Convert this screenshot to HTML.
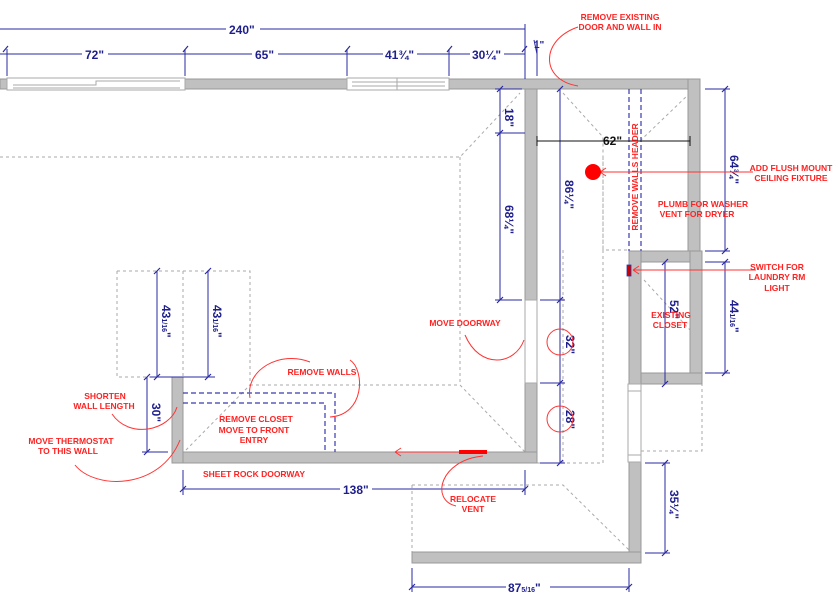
<!DOCTYPE html>
<html><head><meta charset="utf-8"><style>
html,body{margin:0;padding:0;background:#fff;width:836px;height:597px;overflow:hidden}
svg{display:block}
.b{font-family:"Liberation Sans",sans-serif;font-weight:bold;fill:#1e1e8c;font-size:12px}
.r{font-family:"Liberation Sans",sans-serif;fill:#f22;font-size:8.5px;font-weight:bold}
</style></head><body>
<svg width="836" height="597" viewBox="0 0 836 597" xmlns="http://www.w3.org/2000/svg">
<g stroke="#aaa" stroke-width="1" stroke-dasharray="3,3" fill="none">
<path d="M0 157H460L520 93"/>
<path d="M460 157V385L525 452"/>
<path d="M250 385H460"/>
<path d="M117 271H250V385M117 271V377H172M183 271V377"/>
<path d="M563 93L603 137V250"/>
<path d="M603 157V250H628"/>
<path d="M563 250V463H537"/>
<path d="M603 250V463H537"/>
<path d="M641 384H702V451H641"/>
<path d="M412 485H563L629 550"/>
<path d="M412 485V552"/>
<path d="M690 93L641 140"/>
<path d="M186 450L250 385"/>
<path d="M644 280L690 330"/>
</g>
<g fill="#c0c0c0" stroke="#999" stroke-width="1">
<rect x="0" y="79" width="700" height="10"/>
<rect x="688" y="79" width="12" height="172"/>
<rect x="629" y="251" width="73" height="11"/>
<rect x="629" y="251" width="12" height="133"/>
<rect x="690" y="251" width="12" height="133"/>
<rect x="641" y="373" width="61" height="11"/>
<rect x="629" y="461" width="12" height="102"/>
<rect x="412" y="552" width="229" height="11"/>
<rect x="525" y="89" width="12" height="211"/>
<rect x="525" y="383" width="12" height="80"/>
<rect x="172" y="452" width="365" height="11"/>
<rect x="172" y="377" width="11" height="86"/>
</g>
<g fill="#fff" stroke="#aaa" stroke-width="1">
<rect x="7" y="78" width="178" height="12"/>
<path d="M13 85H96V81H180M13 88H180" fill="none"/>
<rect x="347" y="78" width="102" height="12"/>
<path d="M352 82H445M352 86H445M397 78V90" fill="none"/>
<rect x="525" y="300" width="12" height="83"/>
<rect x="628" y="384" width="13" height="78"/>
<path d="M628 391H641M628 455H641" fill="none"/>
</g>
<g stroke="#3a3ab0" stroke-width="1.2" stroke-dasharray="5,3" fill="none">
<path d="M183 393H335V452M183 403H325V452"/>
<path d="M629 89V251M641 89V251"/>
</g>
<g stroke="#2a2aa0" stroke-width="1" fill="none">
<path d="M0 29H228M258 29H525M525 24V79"/>
<path d="M0 54H525M7 49V76M185 49V76M347 49V76M449 49V76M537 40V76M534 40L537 54"/>
<path d="M500 89V300M495 89H522M495 133H525M495 300H522"/>
<path d="M560 89V463M540 300H565M540 383H565M540 463H565"/>
<path d="M725 89V251M705 89H730M705 251H730M725 262V373M705 262H730M705 373H730"/>
<path d="M665 262V384M665 463V553M645 463H670M645 553H670"/>
<path d="M157 271V377M208 271V377M150 377H215"/>
<path d="M147 377V452M142 452H168"/>
<path d="M183 489H525M183 470V495M525 470V495"/>
<path d="M412 587H629M412 568V592M629 568V592"/>
<g stroke-width="1.2"><path d="M3 52l5-6M183 52l5-6M345 52l5-6M447 52l5-6M522 52l5-6M497 92l6-6M497 136l6-6M497 303l6-6M557 92l6-6M557 303l6-6M557 386l6-6M557 466l6-6M722 92l6-6M722 254l6-6M722 265l6-6M722 376l6-6M662 265l6-6M662 387l6-6M662 466l6-6M662 556l6-6M154 274l6-6M205 274l6-6M154 380l6-6M205 380l6-6M144 380l6-6M144 455l6-6M180 492l6-6M522 492l6-6M409 590l6-6M626 590l6-6"/></g>
</g>
<path d="M537 141H690M537 136V146M690 136V146" stroke="#111" stroke-width="1" fill="none"/>
<g class="b">
<rect x="226" y="22" width="34" height="14" fill="#fff"/><text x="229" y="34">240"</text>
<rect x="82" y="47" width="26" height="14" fill="#fff"/><text x="85" y="59">72"</text>
<rect x="252" y="47" width="26" height="14" fill="#fff"/><text x="255" y="59">65"</text>
<rect x="383" y="47" width="34" height="14" fill="#fff"/><text x="385" y="59">41¾"</text>
<rect x="470" y="47" width="34" height="14" fill="#fff"/><text x="472" y="59">30¼"</text>
<text x="534" y="48" font-size="10">1"</text>
<text x="603" y="145" fill="#111">62"</text>
<text transform="translate(505,108) rotate(90)">18"</text>
<text transform="translate(505,205) rotate(90)">68¼"</text>
<text transform="translate(565,180) rotate(90)">86¼"</text>
<text transform="translate(566,335) rotate(90)">32"</text>
<text transform="translate(566,410) rotate(90)">28"</text>
<text transform="translate(730,155) rotate(90)">64¾"</text>
<text transform="translate(730,300) rotate(90)">44<tspan font-size="7">1/16</tspan>"</text>
<text transform="translate(670,300) rotate(90)">52"</text>
<text transform="translate(670,490) rotate(90)">35¼"</text>
<text transform="translate(162,305) rotate(90)">43<tspan font-size="7">1/16</tspan>"</text>
<text transform="translate(213,305) rotate(90)">43<tspan font-size="7">1/16</tspan>"</text>
<text transform="translate(152,403) rotate(90)">30"</text>
<rect x="340" y="482" width="32" height="14" fill="#fff"/><text x="343" y="494">138"</text>
<rect x="506" y="580" width="44" height="14" fill="#fff"/><text x="508" y="592">87<tspan font-size="7">5/16</tspan>"</text>
</g>
<g stroke="#f33" stroke-width="1" fill="none">
<circle cx="560" cy="342" r="13"/><circle cx="560" cy="419" r="13"/>
<path d="M578 27C540 40 540 80 578 86"/>
<path d="M600 172H753M600 172l6-4M600 172l6 4"/>
<path d="M633 270H756M633 270l6-4M633 270l6 4"/>
<path d="M395 452H460M395 452l6-4M395 452l6 4"/>
<path d="M483 456C440 460 430 500 456 506"/>
<path d="M524 340C515 365 480 370 465 335"/>
<path d="M250 398C245 370 280 350 310 362"/>
<path d="M350 360C365 370 365 415 330 417"/>
<path d="M112 414C130 440 170 430 177 407"/>
<path d="M75 465C95 490 160 490 180 440"/>
</g>
<circle cx="593" cy="172" r="8" fill="#f00"/>
<rect x="459" y="450" width="28" height="4" fill="#f00"/>
<rect x="627" y="265" width="4" height="11" fill="#c00" stroke="#33a" stroke-width="0.8"/>
<g class="r" text-anchor="middle">
<text x="620" y="20">REMOVE EXISTING</text><text x="620" y="30">DOOR AND WALL IN</text>
<text x="791" y="171">ADD FLUSH MOUNT</text><text x="791" y="181">CEILING FIXTURE</text>
<text x="703" y="207">PLUMB FOR WASHER</text><text x="697" y="217">VENT FOR DRYER</text>
<text x="777" y="270">SWITCH FOR</text><text x="777" y="280">LAUNDRY RM</text><text x="777" y="291">LIGHT</text>
<text transform="translate(638,177) rotate(-90)">REMOVE WALLS HEADER</text>
<text x="465" y="326">MOVE DOORWAY</text>
<text x="671" y="318">EXISTING</text><text x="670" y="328">CLOSET</text>
<text x="322" y="375">REMOVE WALLS</text>
<text x="256" y="422">REMOVE CLOSET</text><text x="254" y="433">MOVE TO FRONT</text><text x="254" y="443">ENTRY</text>
<text x="105" y="399">SHORTEN</text><text x="104" y="409">WALL LENGTH</text>
<text x="71" y="444">MOVE THERMOSTAT</text><text x="68" y="454">TO THIS WALL</text>
<text x="254" y="477">SHEET ROCK DOORWAY</text>
<text x="473" y="502">RELOCATE</text><text x="473" y="512">VENT</text>
</g>
</svg>
</body></html>
